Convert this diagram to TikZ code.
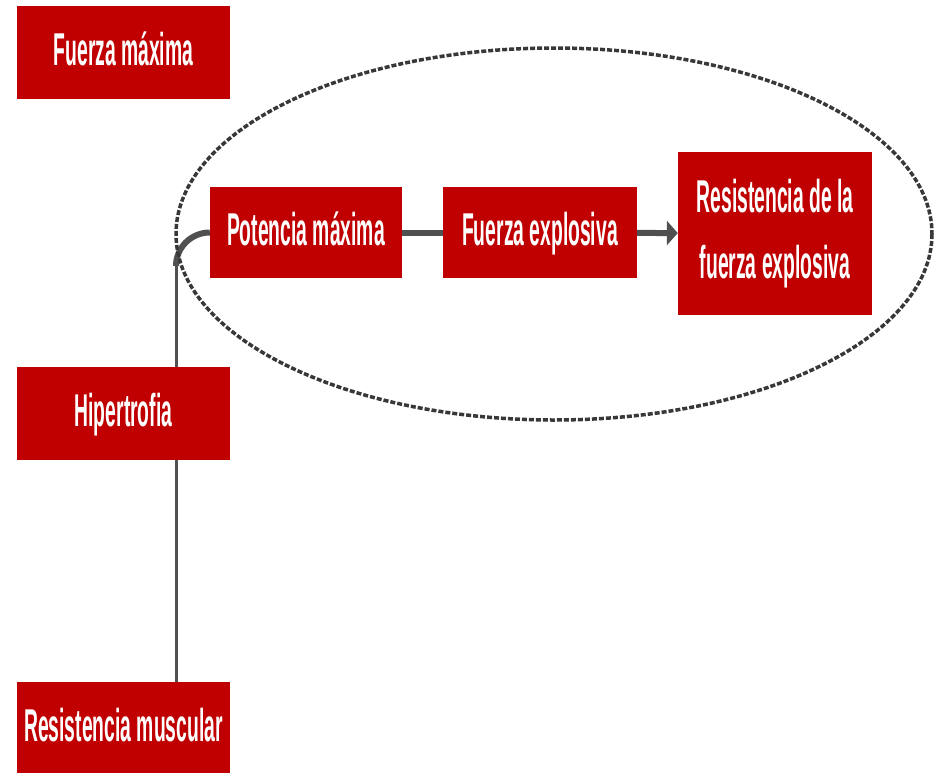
\documentclass[tikz,border=0pt]{standalone}
\usepackage{fontspec}
\newfontfamily\boxfont[FakeStretch=0.42,BoldFont={Liberation Sans Bold}]{Liberation Sans}
\usetikzlibrary{arrows.meta,backgrounds}

\definecolor{boxred}{HTML}{C00000}
\definecolor{linegray}{HTML}{505050}
\definecolor{dashgray}{HTML}{383838}

\tikzstyle{redbox}=[fill=boxred, text=white, inner sep=0pt, align=center,
  font=\boxfont\bfseries\fontsize{46}{66}\selectfont]
\tikzstyle{onerow}=[redbox, text height=33pt, text depth=7pt]
\tikzstyle{link}=[draw=linegray, line width=6pt]
\tikzstyle{thinlink}=[draw=linegray, line width=3pt]
\tikzstyle{group}=[draw=dashgray, line width=3.5pt, dash pattern=on 5pt off 2pt]

\begin{document}
\begin{tikzpicture}[x=1pt,y=-1pt]
\useasboundingbox (0,0) rectangle (935,772);

\draw[group] (554,234) ellipse [x radius=378, y radius=186];

\foreach \name/\y/\txt in {fmax/52/Fuerza máxima,hiper/413.5/Hipertrofia,resmusc/728.5/Resistencia muscular}{% left column
    \node[onerow, minimum width=213pt, minimum height=93pt] (\name) at (123.5,\y) {\txt};
}

\node[onerow, minimum width=192pt, minimum height=91pt] (potencia) at (306,232.5) {Potencia máxima};
\node[onerow, minimum width=194pt, minimum height=91pt] (fexp) at (540,232.5) {Fuerza explosiva};
\node[redbox, minimum width=194pt, minimum height=163pt] (resfe) at (775,233.5) {Resistencia de la\\fuerza explosiva};

\coordinate (bend) at (176,266);

\begin{scope}[on background layer]
\draw[thinlink] (resmusc.north -| bend) -- (bend);
\draw[link] (bend) to[out=90,in=180] (potencia.west);
\end{scope}

\draw[link] (potencia) -- (fexp);
\draw[link, -{Triangle[length=11pt,width=24pt]}] (fexp) -- (resfe);

\end{tikzpicture}
\end{document}
